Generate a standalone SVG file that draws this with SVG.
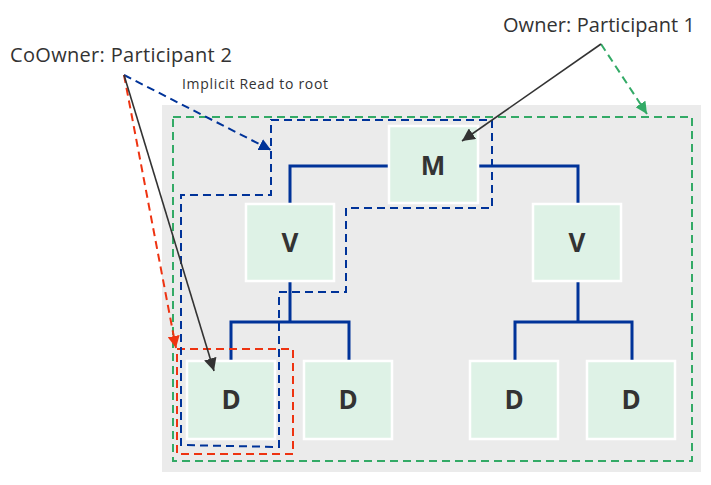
<svg xmlns="http://www.w3.org/2000/svg" width="711" height="485" viewBox="0 0 711 485">
<style>
.node rect{fill:#def2e6;stroke:#fff;stroke-width:2.5}
.node text{font-family:"Open Sans","Liberation Sans",sans-serif;font-weight:bold;font-size:26px;fill:#333;text-anchor:middle}
.tree{fill:none;stroke:#003399;stroke-width:3}
.lbl{font-family:"Open Sans","Liberation Sans",sans-serif;fill:#333}
.dash{fill:none;stroke-width:2;stroke-dasharray:8 5}
</style>
<defs>
<marker id="ab" viewBox="0 0 10 10" refX="10" refY="5" markerWidth="8" markerHeight="8" orient="auto" markerUnits="strokeWidth"><path d="M0,0L10,5L0,10z" fill="#333"/></marker>
<marker id="ablue" viewBox="0 0 10 10" refX="10" refY="5" markerWidth="6" markerHeight="6" orient="auto" markerUnits="strokeWidth"><path d="M0,0L10,5L0,10z" fill="#003399"/></marker>
<marker id="ared" viewBox="0 0 10 10" refX="10" refY="5" markerWidth="6" markerHeight="6" orient="auto" markerUnits="strokeWidth"><path d="M0,0L10,5L0,10z" fill="#ee3311"/></marker>
<marker id="agreen" viewBox="0 0 10 10" refX="10" refY="5" markerWidth="6" markerHeight="6" orient="auto" markerUnits="strokeWidth"><path d="M0,0L10,5L0,10z" fill="#33aa66"/></marker>
</defs>
<rect x="162" y="105" width="539" height="367" fill="#ebebeb"/>
<g id="tree-lines">
<path class="tree" d="M389,166H290V204M478,166H578V204M290,281V322M231,361V322H349V361M578,282V322M515,361V322H632V361"/>
</g>
<g id="scopes">
<rect class="dash" x="173" y="117" width="519" height="344" stroke="#33aa66"/>
<rect class="dash" x="177" y="349" width="116" height="105" stroke="#ee3311"/>
<path class="dash" stroke="#003399" d="M271,120H492V208H346V292H279V447L181,445V195H271Z"/>
</g>
<g id="n-m" class="node"><rect x="389" y="126" width="89" height="77"/><text x="433" y="175">M</text></g>
<g id="n-v1" class="node"><rect x="246" y="204" width="88" height="77"/><text x="290" y="252">V</text></g>
<g id="n-v2" class="node"><rect x="533" y="204" width="88" height="77"/><text x="577" y="252">V</text></g>
<g id="n-d1" class="node"><rect x="187" y="361" width="88" height="78"/><text x="231" y="409">D</text></g>
<g id="n-d2" class="node"><rect x="304" y="361" width="88" height="78"/><text x="348" y="409">D</text></g>
<g id="n-d3" class="node"><rect x="470" y="361" width="88" height="78"/><text x="514" y="409">D</text></g>
<g id="n-d4" class="node"><rect x="587" y="361" width="88" height="78"/><text x="631" y="409">D</text></g>
<g id="connectors">
<line x1="124" y1="75" x2="271" y2="150" class="dash" stroke="#003399" marker-end="url(#ablue)"/>
<line x1="124" y1="75" x2="176" y2="348" class="dash" stroke="#ee3311" marker-end="url(#ared)"/>
<line x1="601" y1="44" x2="647" y2="114" class="dash" stroke="#33aa66" marker-end="url(#agreen)"/>
<line x1="124" y1="75" x2="214" y2="371" stroke="#333" stroke-width="1.6" marker-end="url(#ab)"/>
<line x1="601" y1="44" x2="462" y2="141" stroke="#333" stroke-width="1.6" marker-end="url(#ab)"/>
</g>
<g id="labels">
<text class="lbl" x="10" y="62" font-size="20" textLength="222">CoOwner: Participant 2</text>
<text class="lbl" x="503" y="32" font-size="20" textLength="192">Owner: Participant 1</text>
<text class="lbl" x="182" y="89" font-size="14" textLength="146">Implicit Read to root</text>
</g>
</svg>
